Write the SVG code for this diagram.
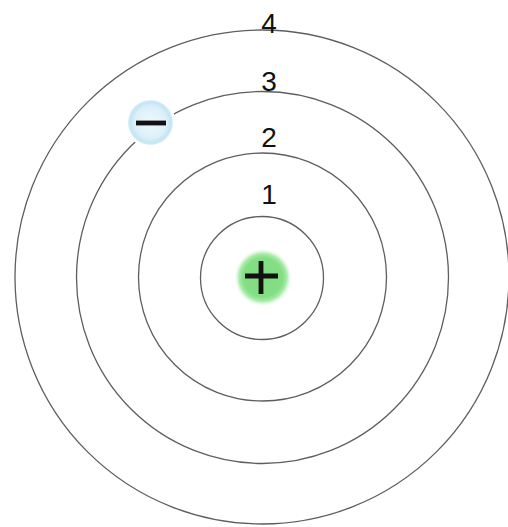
<svg xmlns="http://www.w3.org/2000/svg" width="508" height="527" viewBox="0 0 508 527">
  <style>
    .orbit { fill: none; stroke: #5e5e5e; stroke-width: 1.3; }
    .label { font-family: "Liberation Sans", Arial, sans-serif; font-size: 28px; fill: #111; text-anchor: middle; }
    .sign { stroke: #111; stroke-width: 4.8; stroke-linecap: butt; }
  </style>
  <defs>
    <radialGradient id="protonGrad" cx="50%" cy="50%" r="50%">
      <stop offset="0%" stop-color="#7edc7e"/>
      <stop offset="70%" stop-color="#84df84"/>
      <stop offset="85%" stop-color="#a9ebab"/>
      <stop offset="100%" stop-color="#e8fae8" stop-opacity="0.3"/>
    </radialGradient>
    <radialGradient id="electronGrad" cx="50%" cy="50%" r="50%">
      <stop offset="0%" stop-color="#eef8fc"/>
      <stop offset="70%" stop-color="#dcf0f9"/>
      <stop offset="90%" stop-color="#c3e5f4"/>
      <stop offset="100%" stop-color="#d8eef8"/>
    </radialGradient>
  </defs>
  <rect width="508" height="527" fill="#ffffff"/>

  <g id="orbits">
    <circle id="orbit1" class="orbit" cx="262" cy="278" r="61.5"/>
    <circle id="orbit2" class="orbit" cx="262.5" cy="277" r="124"/>
    <circle id="orbit3" class="orbit" cx="262.5" cy="277.5" r="186"/>
    <circle id="orbit4" class="orbit" cx="262" cy="277" r="247"/>
  </g>

  <g id="labels">
    <text class="label" x="269" y="33">4</text>
    <text class="label" x="269" y="91">3</text>
    <text class="label" x="269" y="147">2</text>
    <text class="label" x="269" y="204">1</text>
  </g>

  <g id="proton">
    <circle cx="263" cy="277.5" r="28" fill="url(#protonGrad)"/>
    <line class="sign" x1="245" y1="276" x2="278" y2="276"/>
    <line class="sign" x1="261" y1="261" x2="261" y2="294"/>
  </g>

  <g id="electron">
    <circle cx="150.5" cy="122.5" r="25" fill="#ffffff"/>
    <circle cx="150.5" cy="122.5" r="22.5" fill="url(#electronGrad)"/>
    <line class="sign" x1="136" y1="123" x2="166" y2="123"/>
  </g>
</svg>
